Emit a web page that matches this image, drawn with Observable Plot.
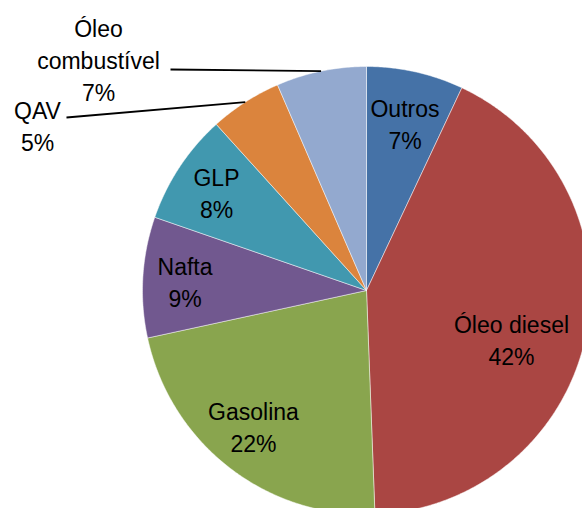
<!DOCTYPE html>
<html><head><meta charset="utf-8">
<script src="https://cdn.jsdelivr.net/npm/d3@7"></script>
<script src="https://cdn.jsdelivr.net/npm/@observablehq/plot@0.6"></script>
<style>body{margin:0;background:#fff;} #chart svg{display:block;}</style>
</head><body><div id="chart"></div>
<script>
// ---- data ----
const categories = ["Outros", "Óleo diesel", "Gasolina", "Nafta", "GLP", "QAV", "Óleo combustível"];
const shares = [7.0, 42.4, 22.2, 8.7, 8.0, 5.2, 6.5];
const labelNames = ["Outros", "Óleo diesel", "Gasolina", "Nafta", "GLP", "QAV", "Óleo\ncombustível"];
const colors = ["#4572A7", "#AA4643", "#89A54E", "#71588F", "#4198AF", "#DB843D", "#93A9CF"];

// ---- layout: pixel offsets from the pie centre ----
const W = 582, H = 508, CX = 366, CY = 290, R = 224;
const labelOffsetPx = [
  [38.5, -142], [145, 74], [-113, 161], [-181.5, 16],
  [-150, -73], [-329, -140], [-268, -190]
];
const leaderStartPx = {5: [-300, -173], 6: [-196, -221]};

// ---- geometry from data ----
const arcs = d3.pie().sort(null).value(d => d)(shares);
const slicePts = [];
arcs.forEach((a, i) => {
  slicePts.push({cat: categories[i], x: 0, y: 0});
  const n = Math.max(2, Math.ceil((a.endAngle - a.startAngle) / (Math.PI / 360)));
  for (let k = 0; k <= n; k++) {
    const t = a.startAngle + (a.endAngle - a.startAngle) * k / n;
    slicePts.push({cat: categories[i], x: Math.sin(t), y: Math.cos(t)});
  }
  slicePts.push({cat: categories[i], x: 0, y: 0});
});
const labels = arcs.map((a, i) => ({
  cat: categories[i],
  text: labelNames[i] + "\n" + Math.round(shares[i]) + "%",
  x: labelOffsetPx[i][0] / R, y: -labelOffsetPx[i][1] / R
}));
const leaders = Object.keys(leaderStartPx).map(k => {
  const a = arcs[k], m = (a.startAngle + a.endAngle) / 2;
  return {x1: leaderStartPx[k][0] / R, y1: -leaderStartPx[k][1] / R, x2: Math.sin(m), y2: Math.cos(m)};
});

const chart = Plot.plot({
  width: W, height: H, margin: 0,
  x: {domain: [-CX / R, (W - CX) / R], axis: null},
  y: {domain: [-(H - CY) / R, CY / R], axis: null},
  color: {domain: categories, range: colors},
  style: {fontFamily: "Liberation Sans", background: "white"},
  marks: [
    Plot.line(slicePts, {x: "x", y: "y", z: "cat", fill: "cat", stroke: "white", strokeWidth: 0.8, strokeOpacity: 0.6, curve: "linear"}),
    Plot.link(leaders, {x1: "x1", y1: "y1", x2: "x2", y2: "y2", stroke: "#000", strokeWidth: 1.8}),
    Plot.text(labels, {x: "x", y: "y", text: "text", lineAnchor: "bottom", textAnchor: "middle",
      fontSize: 23, lineHeight: 1.39, fill: "#000", fontFamily: "Liberation Sans"})
  ]
});
document.getElementById("chart").appendChild(chart);
</script>
</body></html>
